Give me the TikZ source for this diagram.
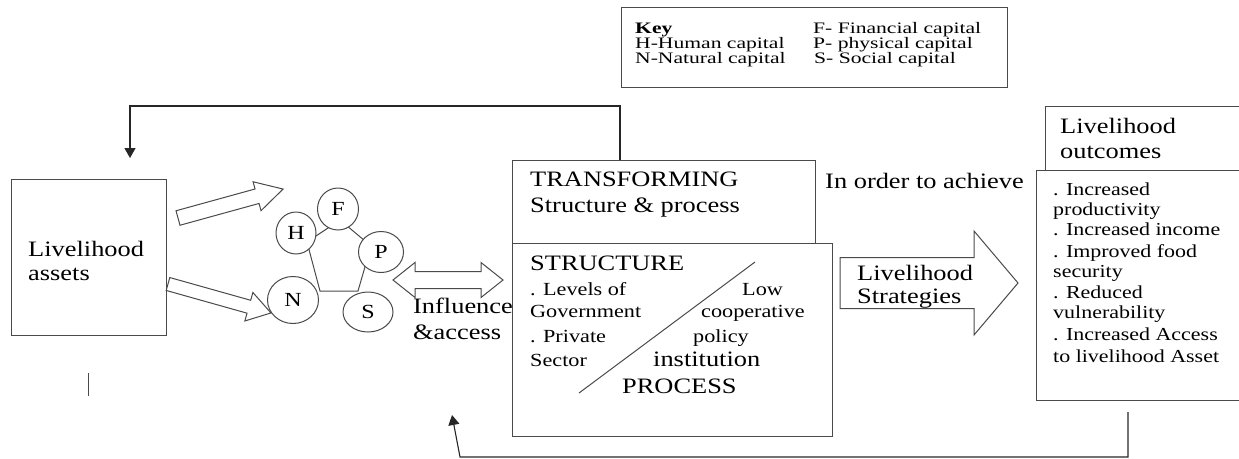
\documentclass[tikz,border=0pt]{standalone}
\usepackage{fontspec}
\setmainfont{Liberation Serif}[FakeStretch=1.2]
\newfontfamily\keyfont{Liberation Serif}[FakeStretch=1.35]
\usetikzlibrary{shapes.geometric,arrows.meta}
\definecolor{lc}{HTML}{4A4A4A}
\newcommand\fsz[1]{\fontsize{#1}{#1}\selectfont}
\newcommand\blockarr[6]{%
  \begin{scope}[shift={(#1)},rotate=#2]
    \draw[barr] (0,#4) -- ({#3-#6},#4) -- ({#3-#6},#5) -- (#3,0) -- ({#3-#6},-#5) -- ({#3-#6},-#4) -- (0,-#4) -- cycle;
  \end{scope}}
\tikzset{
  box/.style={draw=lc, line width=1.1pt, anchor=north west, inner sep=0pt},
  barr/.style={draw=lc, line width=1pt, fill=white, line join=miter},
  txt/.style={anchor=base west, inner sep=0pt, text=black},
  keytxt/.style={txt, font=\keyfont\fsz{16}},
  circ/.style={ellipse, draw=lc, line width=1pt, fill=white, inner sep=0pt, font=\fsz{20}},
  fb/.style={draw=black!85, line width=1.1pt, -{Triangle[length=10pt,width=11pt]}},
  thin/.style={draw=lc, line width=1pt}
}
\begin{document}
\begin{tikzpicture}[x=1pt,y=-1pt]
\useasboundingbox (0,0) rectangle (1239,458);
\clip (0,0) rectangle (1239,458);

% key
\node[box, minimum width=386pt, minimum height=80pt] (key) at (621,7) {};
\node[keytxt, font=\keyfont\fsz{16}\bfseries] (k0) at (635,33) {Key};
\node[keytxt] (k1) at (635,48) {H-Human capital};
\node[keytxt] (k2) at (635,63) {N-Natural capital};
\node[keytxt] (k3) at (813,33) {F- Financial capital};
\node[keytxt] (k4) at (813,48) {P- physical capital};
\node[keytxt] (k5) at (814,63) {S- Social capital};

% livelihood assets
\node[box, minimum width=155pt, minimum height=156pt] (assets) at (11,179) {};
\node[txt, font=\fsz{22}] (a1) at (28,256) {Livelihood};
\node[txt, font=\fsz{22}] (a2) at (28,280) {assets};
\draw[thin] (88,373) -- (88,396);

% block arrows from assets
\blockarr{178,218}{15.4}{109}{7.5}{15}{27}
\blockarr{168,284}{-15.7}{107}{6.7}{14.8}{23}

% pentagon of capitals
\draw[thin] (340,220) -- (371,246) -- (358,291) -- (320,291) -- (307,242) -- cycle;
\node[circ, minimum width=40pt, minimum height=42pt] (H) at (296,233) {H};
\node[circ, minimum width=41pt, minimum height=42pt] (F) at (338,209) {F};
\node[circ, minimum width=45pt, minimum height=41pt] (P) at (381,252) {P};
\node[circ, minimum width=51pt, minimum height=47pt] (N) at (293,300) {N};
\node[circ, minimum width=50pt, minimum height=40pt] (S) at (368,312) {\raisebox{-4pt}{S}};

% double arrow
\draw[barr] (393,280) -- (415,262.5) -- (415,271.5) -- (481,271.5) -- (481,262.5) -- (503,280)
  -- (481,297.5) -- (481,288.5) -- (415,288.5) -- (415,297.5) -- cycle;
\node[txt, font=\fsz{22}] (inf1) at (413,313) {Influence};
\node[txt, font=\fsz{22}] (inf2) at (413,339) {\&access};

% transforming structures
\node[box, minimum width=303pt, minimum height=83pt] (trans) at (512,160) {};
\node[box, minimum width=320pt, minimum height=193pt] (struct) at (512,243) {};
\node[txt, font=\fsz{22}] (t1) at (530,186) {TRANSFORMING};
\node[txt, font=\fsz{22}] (t2) at (530,212) {Structure \& process};
\node[txt, font=\fsz{22}] (s0) at (530,270) {STRUCTURE};
\node[txt, font=\fsz{18.5}] (s1) at (530,295) {. Levels of};
\node[txt, font=\fsz{18.5}] (s2) at (530,317) {Government};
\node[txt, font=\fsz{18.5}] (s3) at (530,342) {. Private};
\node[txt, font=\fsz{18.5}] (s4) at (530,366) {Sector};
\node[txt, font=\fsz{18.5}] (p1) at (742,295) {Low};
\node[txt, font=\fsz{18.5}] (p2) at (701,317) {cooperative};
\node[txt, font=\fsz{18.5}] (p3) at (693,342) {policy};
\node[txt, font=\fsz{22}] (p4) at (653,366) {institution};
\node[txt, font=\fsz{22}] (p5) at (622,393) {PROCESS};
\draw[thin] (579,393) -- (755,262);

\node[txt, font=\fsz{22}] (ach) at (825,188) {In order to achieve};

% strategies arrow
\draw[barr] (840,257.5) -- (974,257.5) -- (974,231) -- (1018,283) -- (974,335) -- (974,308.5) -- (840,308.5) -- cycle;
\node[txt, font=\fsz{22}] (ls1) at (857,280) {Livelihood};
\node[txt, font=\fsz{22}] (ls2) at (857,303) {Strategies};

% outcomes
\node[box, minimum width=210pt, minimum height=64pt] (outh) at (1045,106) {};
\node[box, minimum width=220pt, minimum height=230pt] (outl) at (1036,170) {};
\node[txt, font=\fsz{22}] (o1) at (1060,133) {Livelihood};
\node[txt, font=\fsz{22}] (o2) at (1060,158) {outcomes};
\node[txt, font=\fsz{18.3}] (l1) at (1053,195) {. Increased};
\node[txt, font=\fsz{18.3}] (l2) at (1053,215) {productivity};
\node[txt, font=\fsz{18.3}] (l3) at (1053,235) {. Increased income};
\node[txt, font=\fsz{18.3}] (l4) at (1053,257) {. Improved food};
\node[txt, font=\fsz{18.3}] (l5) at (1053,277) {security};
\node[txt, font=\fsz{18.3}] (l6) at (1053,298) {. Reduced};
\node[txt, font=\fsz{18.3}] (l7) at (1053,318) {vulnerability};
\node[txt, font=\fsz{18.3}] (l8) at (1053,340) {. Increased Access};
\node[txt, font=\fsz{18.3}] (l9) at (1053,362) {to livelihood Asset};

% feedback loops
\coordinate (c1) at (620,106);
\coordinate (c2) at (130,106);
\coordinate (c3) at (130,158);
\draw[fb] (trans.north -| c1) -- (c1) -- (c2) -- (c3);
\coordinate (d0) at (1128,412);
\coordinate (d1) at (1128,457);
\coordinate (d2) at (460,457);
\coordinate (d3) at (452,415);
\draw[fb] (d0) -- (d1) -- (d2) -- (d3);
\end{tikzpicture}
\end{document}
